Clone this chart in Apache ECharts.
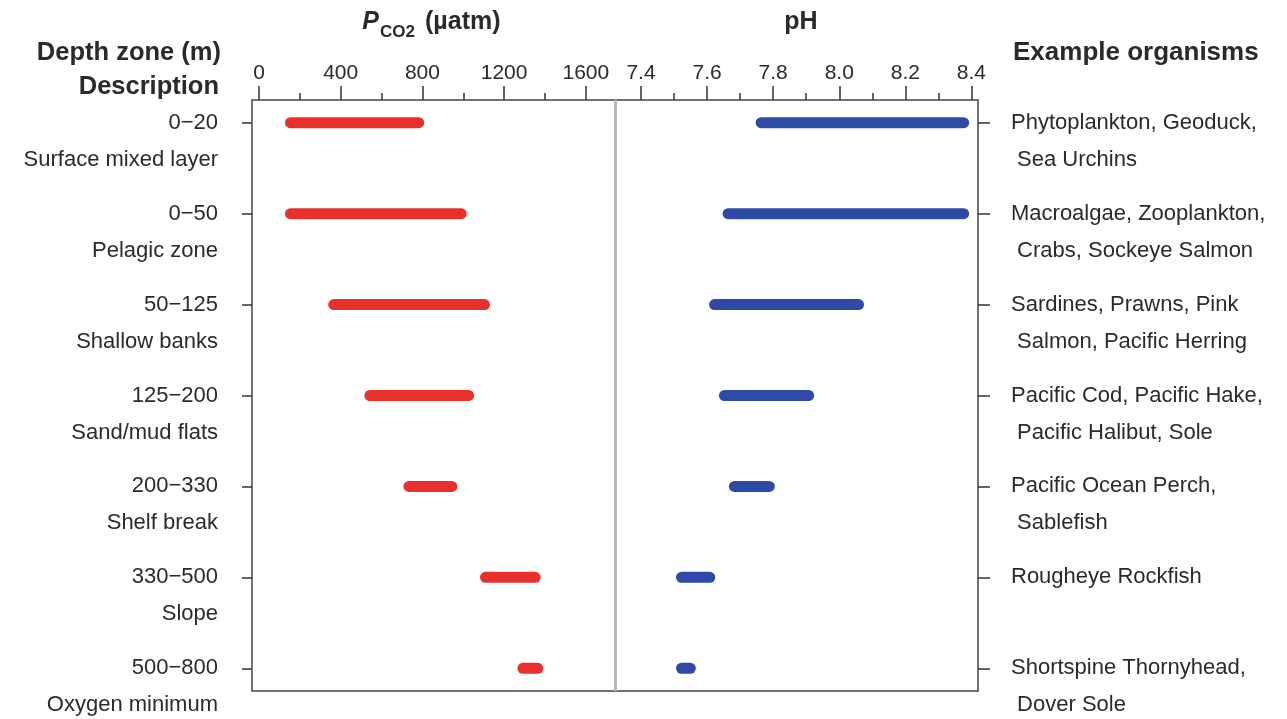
<!DOCTYPE html>
<html>
<head>
<meta charset="utf-8">
<script src="https://cdn.jsdelivr.net/npm/echarts@6/dist/echarts.min.js"></script>
<style>html,body{margin:0;padding:0;background:#fff}#c{width:1287px;height:719px}</style>
</head>
<body>
<div id="c"></div>
<script>
// ---- data ----
const depthZones = ['0\u221220','0\u221250','50\u2212125','125\u2212200','200\u2212330','330\u2212500','500\u2212800'];
const descriptions = ['Surface mixed layer','Pelagic zone','Shallow banks','Sand/mud flats','Shelf break','Slope','Oxygen minimum'];
const organismsLine1 = ['Phytoplankton, Geoduck,','Macroalgae, Zooplankton,','Sardines, Prawns, Pink','Pacific Cod, Pacific Hake,','Pacific Ocean Perch,','Rougheye Rockfish','Shortspine Thornyhead,'];
const organismsLine2 = [' Sea Urchins',' Crabs, Sockeye Salmon',' Salmon, Pacific Herring',' Pacific Halibut, Sole',' Sablefish','',' Dover Sole'];
const pco2Low  = [127, 127, 339, 516, 707, 1082, 1265];
const pco2High = [809, 1017, 1131, 1053, 971, 1379, 1392];
const phLow  = [7.747, 7.647, 7.606, 7.636, 7.666, 7.506, 7.506];
const phHigh = [8.393, 8.393, 8.075, 7.924, 7.805, 7.625, 7.566];
const pco2Ticks = [0, 400, 800, 1200, 1600];
const pco2MinorTicks = [200, 600, 1000, 1400];
const phTicks = [7.4, 7.6, 7.8, 8.0, 8.2, 8.4];
const phMinorTicks = [7.5, 7.7, 7.9, 8.1, 8.3];
const rowIndex = [0, 1, 2, 3, 4, 5, 6];
const dividerPco2 = 1743;

// ---- chart ----
const TXT = '#2a2a2a';
const FONT = 'Liberation Sans, Arial, sans-serif';
const PCO2_MIN = -34.3, PCO2_MAX = 3520;
const PH_MIN = 6.223, PH_MAX = 8.4198;
const chart = echarts.init(document.getElementById('c'), null, {renderer: 'canvas'});

function xAxisCfg(min, max, ticks, labelFmt, tickLen, showLabel) {
  return {
    type: 'value', position: 'top', min: min, max: max, gridIndex: 0,
    axisLine: {show: false, onZero: false},
    splitLine: {show: false},
    axisTick: {show: true, inside: false, length: tickLen, customValues: ticks,
      lineStyle: {color: '#333', width: 1.5}},
    axisLabel: {show: showLabel, customValues: ticks, formatter: labelFmt,
      showMinLabel: true, showMaxLabel: true,
      color: TXT, fontSize: 21, fontFamily: FONT, margin: 16}
  };
}

function barRender(color) {
  return function (params, api) {
    const p1 = api.coord([api.value(0), api.value(2)]);
    const p2 = api.coord([api.value(1), api.value(2)]);
    const h = 11;
    return {type: 'rect',
      shape: {x: p1[0], y: p1[1] - h / 2, width: p2[0] - p1[0], height: h, r: h / 2},
      style: {fill: color}};
  };
}

// first line sits on the tick; second line sits ~37px lower (top-aligned, lineHeight 74)
function yAxisCfg(pos, margin, align, texts, tickLen, secondLine) {
  return {type: 'value', position: pos, min: -0.25, max: 6.25, inverse: true,
    axisLine: {show: false, onZero: false}, splitLine: {show: false},
    axisTick: {show: !secondLine, length: tickLen, customValues: rowIndex,
      lineStyle: {color: '#333', width: 1.5}},
    axisLabel: {customValues: rowIndex, margin: margin, align: align,
      formatter: (v) => texts[v] || ' ',
      verticalAlign: secondLine ? 'top' : 'middle',
      lineHeight: secondLine ? 74 : 26,
      padding: secondLine ? 0 : [4, 0, 0, 0],
      showMinLabel: true, showMaxLabel: true, hideOverlap: false,
      color: TXT, fontSize: 22, fontFamily: FONT}};
}

const option = {
  backgroundColor: '#fff',
  animation: false,
  grid: {left: 252, right: 309, top: 100, bottom: 28, show: true,
    outerBoundsMode: 'none', containLabel: false,
    borderColor: '#444', borderWidth: 1.5, backgroundColor: 'transparent'},
  xAxis: [
    xAxisCfg(PCO2_MIN, PCO2_MAX, pco2Ticks, v => String(v), 14, true),
    xAxisCfg(PH_MIN, PH_MAX, phTicks, v => v.toFixed(1), 14, true),
    xAxisCfg(PCO2_MIN, PCO2_MAX, pco2MinorTicks, v => '', 7, false),
    xAxisCfg(PH_MIN, PH_MAX, phMinorTicks, v => '', 7, false)
  ],
  yAxis: [
    yAxisCfg('left', 34, 'right', depthZones, 10, false),
    yAxisCfg('left', 34, 'right', descriptions, 10, true),
    yAxisCfg('right', 33, 'left', organismsLine1, 12, false),
    yAxisCfg('right', 33, 'left', organismsLine2, 12, true)
  ],
  series: [
    {type: 'custom', xAxisIndex: 0, yAxisIndex: 0,
      encode: {x: [0, 1], y: 2},
      data: pco2Low.map((lo, i) => [lo, pco2High[i], i]),
      renderItem: barRender('#e8302c'),
      markLine: {silent: true, symbol: 'none', label: {show: false},
        lineStyle: {color: '#b8b8b8', width: 3, type: 'solid'},
        data: [{xAxis: dividerPco2}]}},
    {type: 'custom', xAxisIndex: 1, yAxisIndex: 0,
      encode: {x: [0, 1], y: 2},
      data: phLow.map((lo, i) => [lo, phHigh[i], i]),
      renderItem: barRender('#2f4aa6')}
  ],
  graphic: [
    {type: 'text', style: {x: 379, y: 35, text: 'P', fill: TXT,
      font: 'italic bold 25px ' + FONT, textAlign: 'right', textVerticalAlign: 'bottom'}},
    {type: 'text', style: {x: 380, y: 41, text: 'CO2', fill: TXT,
      font: 'bold 17px ' + FONT, textAlign: 'left', textVerticalAlign: 'bottom'}},
    {type: 'text', style: {x: 425, y: 35, text: '(\u00b5atm)', fill: TXT,
      font: 'bold 25px ' + FONT, textAlign: 'left', textVerticalAlign: 'bottom'}},
    {type: 'text', style: {x: 801, y: 35, text: 'pH', fill: TXT,
      font: 'bold 25px ' + FONT, textAlign: 'center', textVerticalAlign: 'bottom'}},
    {type: 'text', style: {x: 221, y: 53, text: 'Depth zone (m)', fill: TXT,
      font: 'bold 25.5px ' + FONT, textAlign: 'right', textVerticalAlign: 'middle'}},
    {type: 'text', style: {x: 219, y: 87, text: 'Description', fill: TXT,
      font: 'bold 25.5px ' + FONT, textAlign: 'right', textVerticalAlign: 'middle'}},
    {type: 'text', style: {x: 1013, y: 53, text: 'Example organisms', fill: TXT,
      font: 'bold 26px ' + FONT, textAlign: 'left', textVerticalAlign: 'middle'}}
  ]
};
chart.setOption(option);
</script>
</body>
</html>
